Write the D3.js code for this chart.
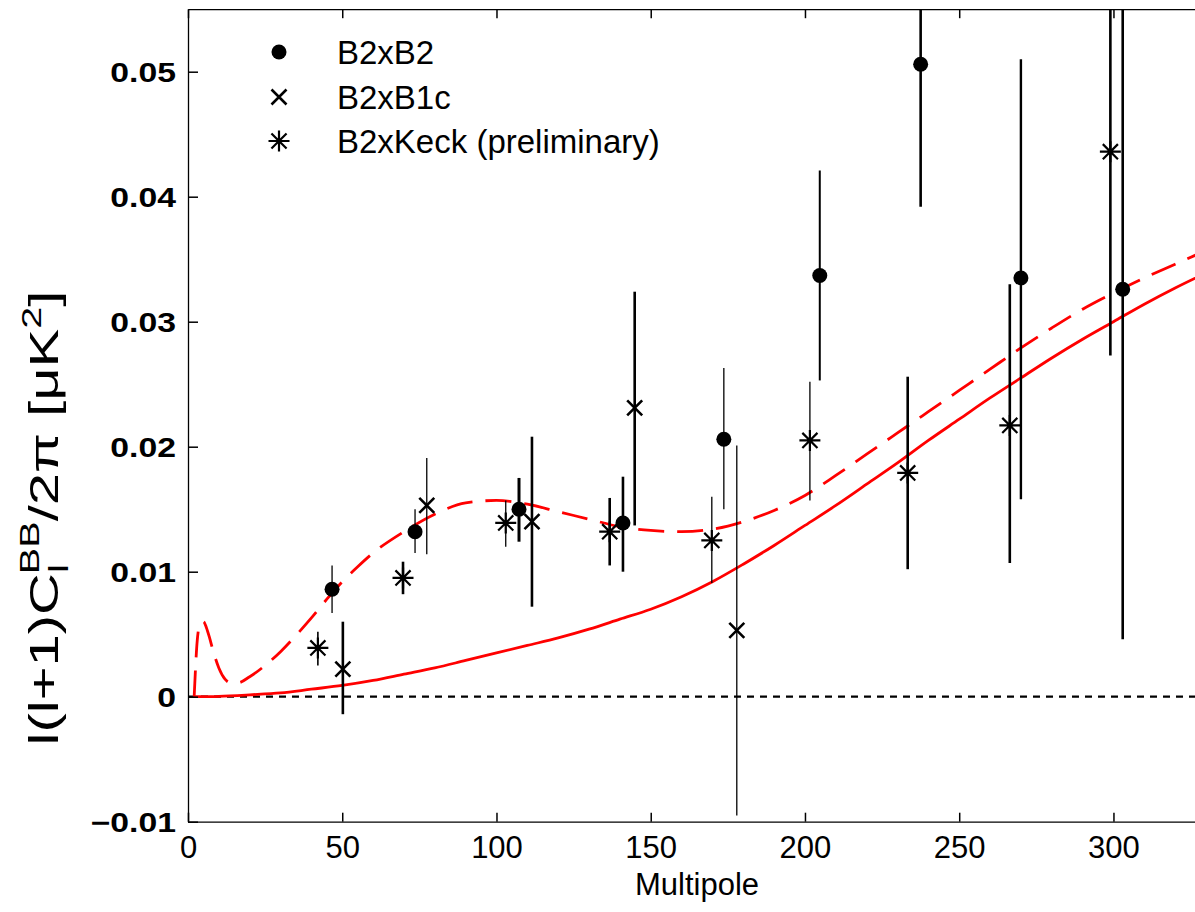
<!DOCTYPE html>
<html>
<head>
<meta charset="utf-8">
<script src="https://cdn.jsdelivr.net/npm/d3@7"></script>
<style>
    body { margin: 0; background: #ffffff; }
    svg { display: block; }
    text { font-family: "Liberation Sans", Arial, Helvetica, sans-serif; fill: #000000; }
</style>
</head>
<body>
<svg id="chart" width="1195" height="912"></svg>
<script>
// axis ranges and ticks
const xDomain = [0, 330];
const yDomain = [-0.01, 0.055];
const xTicks = [0, 50, 100, 150, 200, 250, 300];
const xTickLabels = ['0', '50', '100', '150', '200', '250', '300'];
const yTicks = [-0.01, 0, 0.01, 0.02, 0.03, 0.04, 0.05];
const yTickLabels = ['\u22120.01', '0', '0.01', '0.02', '0.03', '0.04', '0.05'];

// theory: lensing BB (solid)
const lensL  = [2, 10, 20, 30, 40, 50, 60, 70, 80, 90, 100, 110, 120, 130, 140, 150, 160, 170, 180, 190,
                200, 210, 220, 230, 240, 250, 260, 270, 280, 290, 300, 310, 320, 330];
const lensBB = [0, 0.00003, 0.00015, 0.0003, 0.0006, 0.0009, 0.0013, 0.0018, 0.0023, 0.0029, 0.0035, 0.0041,
                0.0047, 0.0054, 0.0062, 0.0070, 0.0080, 0.0092, 0.0106, 0.0121, 0.0137, 0.0153, 0.0170, 0.0187,
                0.0205, 0.0222, 0.0239, 0.0255, 0.0271, 0.0286, 0.0300, 0.0314, 0.0327, 0.0339];

// theory: lensing + tensor BB (dashed)
const totalL  = [2, 3, 4, 5, 6, 7, 8, 10, 12, 14, 16, 20, 25, 30, 35, 40, 45, 50, 55, 60, 70, 80, 90, 100,
                 110, 120, 130, 140, 150, 160, 170, 180, 190, 200, 210, 220, 230, 240, 250, 260, 270, 280,
                 290, 300, 310, 320, 330];
const totalBB = [0, 0.0045, 0.0059, 0.0060, 0.0055, 0.0047, 0.0038, 0.0023, 0.0014, 0.0011, 0.0011, 0.0016,
                 0.0025, 0.0036, 0.0049, 0.0063, 0.0078, 0.0092, 0.0104, 0.0115, 0.0132, 0.0146, 0.0155, 0.0157,
                 0.0154, 0.0148, 0.0142, 0.0136, 0.0133, 0.0132, 0.0134, 0.0140, 0.0149, 0.0161, 0.0177, 0.0194,
                 0.0211, 0.0228, 0.0245, 0.0262, 0.0279, 0.0295, 0.0310, 0.0323, 0.0335, 0.0346, 0.0357];

// B2xB2
const b2b2L  = [46.7, 73.6, 107.3, 141, 173.7, 204.8, 237.5, 270, 303];
const b2b2V  = [0.0086, 0.0132, 0.0150, 0.0139, 0.0206, 0.0337, 0.0506, 0.0335, 0.0326];
const b2b2Lo = [0.0067, 0.0115, 0.0124, 0.0100, 0.0150, 0.0253, 0.0392, 0.0158, 0.0046];
const b2b2Hi = [0.0105, 0.0150, 0.0175, 0.0176, 0.0263, 0.0421, 0.0600, 0.0510, 0.0600];

// B2xB1c
const b2b1L  = [50.2, 77.4, 111.5, 144.8, 177.9];
const b2b1V  = [0.0022, 0.0153, 0.0140, 0.0231, 0.0053];
const b2b1Lo = [-0.0014, 0.0114, 0.0072, 0.0137, -0.0095];
const b2b1Hi = [0.0060, 0.0191, 0.0208, 0.0324, 0.0201];

// B2xKeck (preliminary)
const keckL  = [42.1, 69.7, 103, 136.7, 169.8, 201.6, 233.3, 266.4, 299];
const keckV  = [0.0039, 0.0095, 0.0139, 0.0132, 0.0125, 0.0205, 0.0179, 0.0217, 0.0436];
const keckLo = [0.0025, 0.0082, 0.0120, 0.0105, 0.0091, 0.0157, 0.0102, 0.0107, 0.0273];
const keckHi = [0.0052, 0.0108, 0.0157, 0.0159, 0.0160, 0.0252, 0.0256, 0.0330, 0.0600];

// error bar stroke widths (style, per point)
const b2b2BarW = [1.3, 1.3, 3, 2.6, 1.3, 2, 2.6, 2.4, 2.6];
const b2b1BarW = [2.6, 1.3, 2.6, 2.6, 1.3];
const keckBarW = [1.6, 2.6, 1.3, 2.6, 1.3, 1.3, 2.6, 2.6, 2.6];

const legendLabels = ['B2xB2', 'B2xB1c', 'B2xKeck (preliminary)'];

class BBPlot {
    constructor (selector) {
        this.svg = d3.select(selector);
        this.left = 188;
        this.right = 1206;
        this.top = 9.2;
        this.bottom = 821.7;

        this.x = d3.scaleLinear().domain(xDomain).range([this.left, this.right]);
        this.y = d3.scaleLinear().domain(yDomain).range([this.bottom, this.top]);

        this.svg.append('defs')
            .append('clipPath')
            .attr('id', 'plot-clip')
            .append('rect')
            .attr('x', this.left)
            .attr('y', this.top)
            .attr('width', this.right - this.left)
            .attr('height', this.bottom - this.top);
    }
    stretch (sel, sx) {
        sel.each(function () {
            let t = d3.select(this);
            let x = +t.attr('x') || 0;
            t.attr('x', x / sx).attr('transform', 'scale(' + sx + ',1)');
        });
    }
    drawAxes () {
        let svg = this.svg;

        let left = svg.append('g')
            .attr('transform', 'translate(' + this.left + ',0)')
            .call(d3.axisLeft(this.y)
                .tickValues(yTicks)
                .tickFormat((d, i) => { return yTickLabels[i]; })
                .tickSize(-10)
                .tickSizeOuter(0)
                .tickPadding(12));

        let bottom = svg.append('g')
            .attr('transform', 'translate(0,' + this.bottom + ')')
            .call(d3.axisBottom(this.x)
                .tickValues(xTicks)
                .tickFormat((d, i) => { return xTickLabels[i]; })
                .tickSize(-9)
                .tickSizeOuter(0)
                .tickPadding(14));

        let topAxis = svg.append('g')
            .attr('transform', 'translate(0,' + this.top + ')')
            .call(d3.axisTop(this.x)
                .tickValues(xTicks)
                .tickFormat('')
                .tickSize(-9)
                .tickSizeOuter(0));

        let rightAxis = svg.append('g')
            .attr('transform', 'translate(' + this.right + ',0)')
            .call(d3.axisRight(this.y)
                .tickValues(yTicks)
                .tickFormat('')
                .tickSize(-10)
                .tickSizeOuter(0));

        [left, bottom, topAxis, rightAxis].forEach((g) => {
            g.select('.domain').attr('stroke', '#000').attr('stroke-width', 1.3);
            g.selectAll('.tick line').attr('stroke', '#000').attr('stroke-width', 1.5);
        });

        left.selectAll('.tick text')
            .attr('font-size', 27)
            .attr('font-weight', 'bold')
            .attr('dy', '0.36em');
        this.stretch(left.selectAll('.tick text'), 1.25);

        bottom.selectAll('.tick text')
            .attr('font-size', 31)
            .attr('dy', '0.71em');

        svg.append('text')
            .attr('x', (this.left + this.right) / 2)
            .attr('y', 895)
            .attr('text-anchor', 'middle')
            .attr('font-size', 31)
            .text('Multipole');

        // y label: l(l+1)C_l^BB/2pi [uK^2]
        let yl = svg.append('g')
            .attr('transform', 'translate(58,518) rotate(-90)');
        let t = yl.append('text')
            .attr('text-anchor', 'middle')
            .attr('font-size', 41);
        t.append('tspan').text('l(l+1)C');
        t.append('tspan').attr('font-size', 28).attr('dy', 10).text('l');
        t.append('tspan').attr('font-size', 28).attr('dx', -7).attr('dy', -29).text('BB');
        t.append('tspan').attr('dy', 19).text('/2\u03c0 [\u03bcK');
        t.append('tspan').attr('font-size', 28).attr('dy', -17).text('2');
        t.append('tspan').attr('dy', 17).text(']');

        let w = t.node().getBBox().width;
        t.attr('transform', 'scale(' + (455 / w) + ',1)');
    }
    drawZero () {
        this.svg.append('line')
            .attr('x1', this.left)
            .attr('x2', this.right)
            .attr('y1', this.y(0))
            .attr('y2', this.y(0))
            .attr('stroke', '#000')
            .attr('stroke-width', 2.2)
            .attr('stroke-dasharray', '7,6');
    }
    drawCurves () {
        let line = d3.line()
            .x((d) => { return this.x(d[0]); })
            .y((d) => { return this.y(d[1]); });

        let g = this.svg.append('g').attr('clip-path', 'url(#plot-clip)');

        g.append('path')
            .attr('d', line.curve(d3.curveCatmullRom.alpha(0.5))(d3.zip(lensL, lensBB)))
            .attr('fill', 'none')
            .attr('stroke', '#ff0000')
            .attr('stroke-width', 2.8);

        g.append('path')
            .attr('d', line.curve(d3.curveMonotoneX)(d3.zip(totalL, totalBB)))
            .attr('fill', 'none')
            .attr('stroke', '#ff0000')
            .attr('stroke-width', 2.8)
            .attr('stroke-dasharray', '26,13');
    }
    makePoints (L, V, Lo, Hi, W) {
        let pts = [];
        for (let i = 0; i < L.length; i++)
            pts.push({ l: L[i], v: V[i], lo: Lo[i], hi: Hi[i], w: W[i] });
        return pts;
    }
    drawBars (pts) {
        this.svg.append('g')
            .attr('clip-path', 'url(#plot-clip)')
            .selectAll('line.bar')
            .data(pts)
            .enter()
            .append('line')
            .attr('class', 'bar')
            .attr('x1', (d) => { return this.x(d.l); })
            .attr('x2', (d) => { return this.x(d.l); })
            .attr('y1', (d) => { return this.y(d.lo); })
            .attr('y2', (d) => { return this.y(d.hi); })
            .attr('stroke', '#000')
            .attr('stroke-width', (d) => { return d.w; });
    }
    circleMark (g) {
        g.append('circle').attr('r', 7.5).attr('fill', '#000');
    }
    crossMark (g) {
        let s = 7.5;
        g.append('path')
            .attr('d', 'M' + (-s) + ',' + (-s) + 'L' + s + ',' + s + 'M' + (-s) + ',' + s + 'L' + s + ',' + (-s))
            .attr('stroke', '#000')
            .attr('stroke-width', 2.6)
            .attr('fill', 'none');
    }
    starMark (g) {
        let s = 10.5;
        let d = s * 0.72;
        g.append('path')
            .attr('d', 'M' + (-s) + ',0L' + s + ',0M0,' + (-s) + 'L0,' + s +
                       'M' + (-d) + ',' + (-d) + 'L' + d + ',' + d + 'M' + (-d) + ',' + d + 'L' + d + ',' + (-d))
            .attr('stroke', '#000')
            .attr('stroke-width', 2.2)
            .attr('fill', 'none');
    }
    drawMarks (pts, mark) {
        let self = this;
        this.svg.append('g')
            .selectAll('g.mark')
            .data(pts)
            .enter()
            .append('g')
            .attr('class', 'mark')
            .attr('transform', (d) => { return 'translate(' + this.x(d.l) + ',' + this.y(d.v) + ')'; })
            .each(function () { mark.call(self, d3.select(this)); });
    }
    drawLegend () {
        let marks = [this.circleMark, this.crossMark, this.starMark];
        let rows = [52, 97, 141];
        let g = this.svg.append('g');
        for (let i = 0; i < legendLabels.length; i++) {
            marks[i].call(this, g.append('g').attr('transform', 'translate(279,' + rows[i] + ')'));
            g.append('text')
                .attr('x', 337)
                .attr('y', rows[i] + 12)
                .attr('font-size', 33)
                .text(legendLabels[i]);
        }
    }
    draw () {
        let b2b2 = this.makePoints(b2b2L, b2b2V, b2b2Lo, b2b2Hi, b2b2BarW);
        let b2b1 = this.makePoints(b2b1L, b2b1V, b2b1Lo, b2b1Hi, b2b1BarW);
        let keck = this.makePoints(keckL, keckV, keckLo, keckHi, keckBarW);

        this.drawZero();
        this.drawCurves();
        this.drawBars(b2b2);
        this.drawBars(b2b1);
        this.drawBars(keck);
        this.drawMarks(b2b2, this.circleMark);
        this.drawMarks(b2b1, this.crossMark);
        this.drawMarks(keck, this.starMark);
        this.drawAxes();
        this.drawLegend();
    }
}

new BBPlot('#chart').draw();
</script>
</body>
</html>
